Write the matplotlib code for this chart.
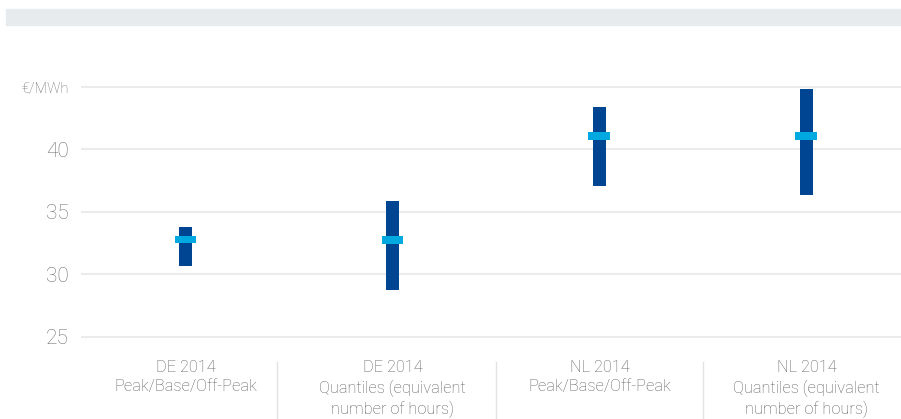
import matplotlib.pyplot as plt
from matplotlib.patches import Rectangle
from matplotlib.transforms import blended_transform_factory

# Dados (EUR/MWh)
categorias = ['DE 2014\nPeak/Base/Off-Peak',
              'DE 2014\nQuantiles (equivalent\nnumber of hours)',
              'NL 2014\nPeak/Base/Off-Peak',
              'NL 2014\nQuantiles (equivalent\nnumber of hours)']
minimo = [30.7, 28.75, 37.05, 36.35]
maximo = [33.8, 35.85, 43.4, 44.8]
media = [32.77, 32.75, 41.05, 41.05]

yticks = [25, 30, 35, 40, 45]
ylabels = ['25', '30', '35', '40', '€/MWh']

azul_escuro = '#004592'
azul_claro = '#00a9e0'
cinza_texto = '#5e5e5e'

plt.rcParams['font.family'] = ['Roboto', 'DejaVu Sans']
plt.rcParams['font.weight'] = 'light'

fig = plt.figure(figsize=(9.01, 4.19), dpi=100)
ax = fig.add_axes([81 / 901, 1 - 339.5 / 419, 1 - 81 / 901, 255.5 / 419])

# Faixa cinza no topo
fig.patches.append(Rectangle((6 / 901, 1 - 25 / 419), 1, 16 / 419,
                             transform=fig.transFigure, color='#e8ebee',
                             zorder=0))

x = list(range(len(categorias)))

# Barras de intervalo (min-max)
alturas = [hi - lo for lo, hi in zip(minimo, maximo)]
ax.bar(x, alturas, bottom=minimo, width=0.063, color=azul_escuro, zorder=3)

# Marcador da media
ax.bar(x, 0.6, bottom=[m - 0.3 for m in media], width=0.106,
       color=azul_claro, zorder=4)

ax.set_xlim(-0.505, 3.457)
ax.set_ylim(24.8, 45.2)

ax.set_yticks(yticks)
ax.set_yticklabels(ylabels)
for lbl in ax.get_yticklabels():
    if lbl.get_text() == '€/MWh':
        lbl.set_fontsize(10.5)
    else:
        lbl.set_fontsize(15)
    lbl.set_color('#737373')
    lbl.set_fontweight('light')
ax.tick_params(axis='y', length=0, pad=9)

ax.set_xticks(x)
ax.set_xticklabels(categorias, fontsize=11.8, color=cinza_texto,
                   linespacing=1.33, va='top', fontweight='light')
ax.tick_params(axis='x', length=0, pad=15)

ax.grid(axis='y', color='#ebebeb', linewidth=1.5, zorder=0)
for s in ax.spines.values():
    s.set_visible(False)

# Separadores entre categorias
trans = blended_transform_factory(ax.transData, ax.transAxes)
for sx in [0.44, 1.5, 2.5]:
    ax.plot([sx, sx], [-0.088, -0.32], color='#e3e3e3', linewidth=1,
            transform=trans, clip_on=False)

fig.savefig('out.png', dpi=100)
